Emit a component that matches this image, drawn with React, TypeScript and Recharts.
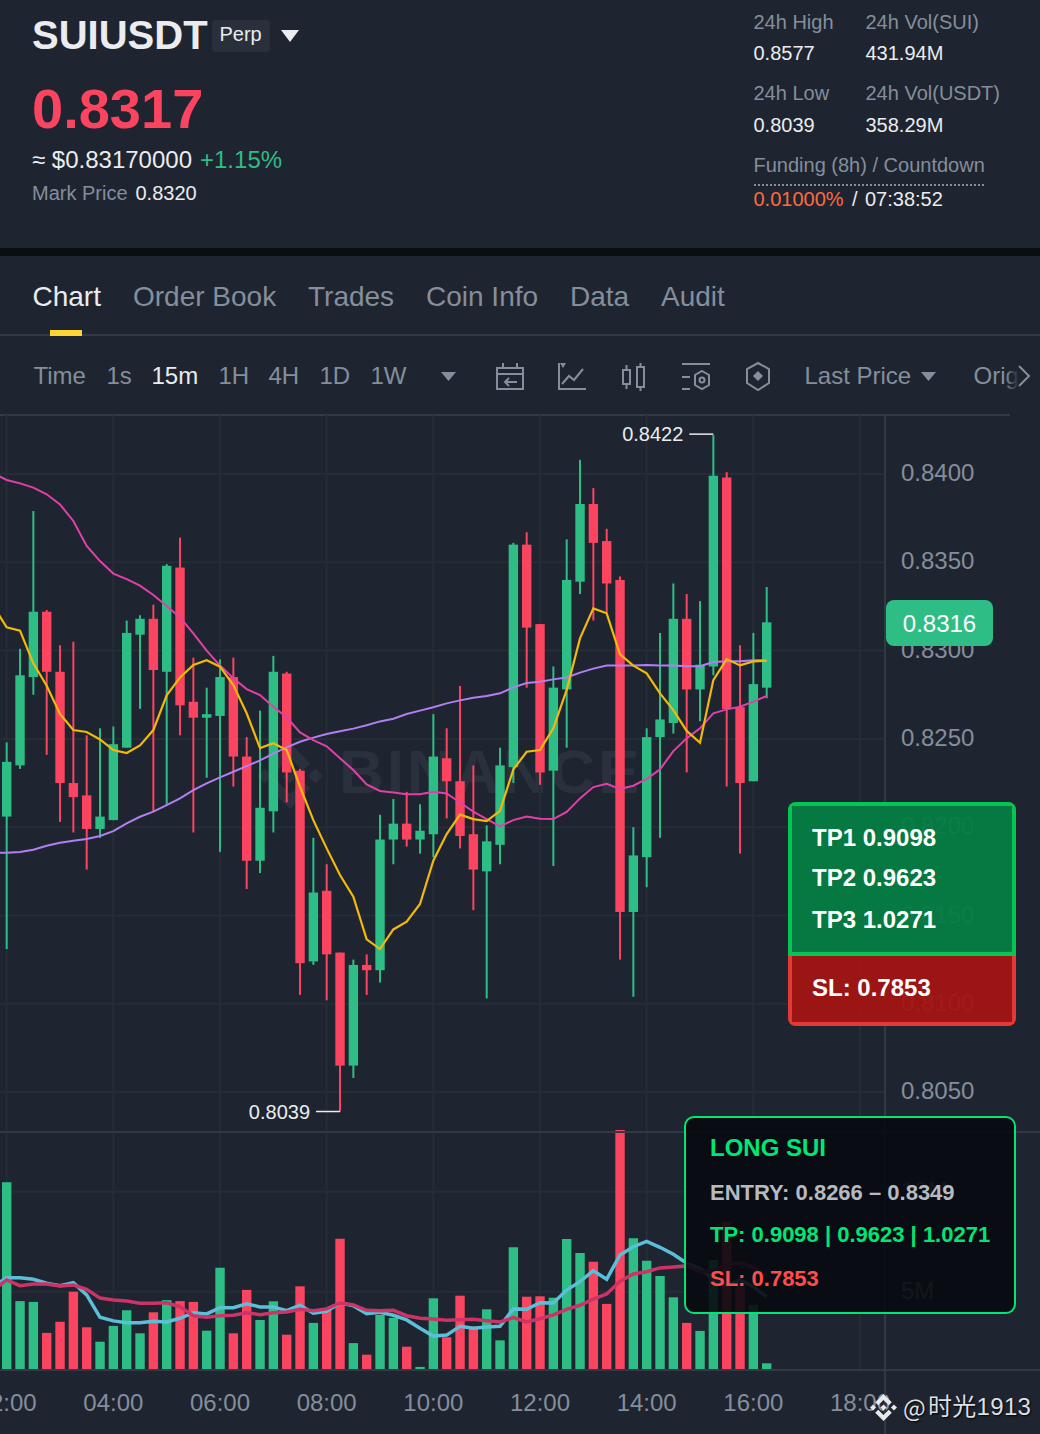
import React from "react"
import { Bar, Cell, CartesianGrid, ComposedChart, Line, ReferenceDot, XAxis, YAxis } from "recharts"

const opens = [0.8206, 0.8235, 0.8285, 0.8322, 0.8288, 0.8225, 0.8218, 0.8199, 0.8204, 0.8245, 0.8309, 0.8318, 0.8288, 0.8347, 0.8271, 0.8262, 0.8263, 0.8285, 0.824, 0.8181, 0.8209, 0.8287, 0.8232, 0.8124, 0.8164, 0.8129, 0.8065, 0.8122, 0.8119, 0.8193, 0.8202, 0.8193, 0.8196, 0.8239, 0.8226, 0.8196, 0.8175, 0.819, 0.8234, 0.836, 0.8315, 0.8232, 0.8278, 0.8339, 0.8383, 0.8362, 0.834, 0.8152, 0.8183, 0.8251, 0.8259, 0.8318, 0.8278, 0.8291, 0.8398, 0.8268, 0.8226, 0.8279]
const closes = [0.8237, 0.8286, 0.8322, 0.8288, 0.8225, 0.8217, 0.8199, 0.8206, 0.8247, 0.831, 0.8318, 0.8289, 0.8348, 0.8269, 0.8262, 0.8264, 0.8285, 0.824, 0.8181, 0.8211, 0.8288, 0.8231, 0.8123, 0.8163, 0.8128, 0.8065, 0.8122, 0.8119, 0.8193, 0.8202, 0.8193, 0.8198, 0.824, 0.8226, 0.8195, 0.8176, 0.8192, 0.8235, 0.836, 0.8313, 0.8231, 0.8279, 0.834, 0.8383, 0.8361, 0.8338, 0.8152, 0.8184, 0.8251, 0.8261, 0.8318, 0.8278, 0.8292, 0.8399, 0.8267, 0.8225, 0.8281, 0.8316]
const highs = [0.8248, 0.8301, 0.8379, 0.8323, 0.8303, 0.8305, 0.8252, 0.8256, 0.8257, 0.8317, 0.832, 0.8326, 0.8349, 0.8364, 0.8296, 0.8279, 0.8295, 0.8296, 0.8251, 0.8266, 0.8297, 0.8288, 0.8233, 0.8194, 0.8179, 0.8129, 0.8125, 0.8128, 0.8207, 0.8216, 0.822, 0.8213, 0.8264, 0.8256, 0.828, 0.8235, 0.8201, 0.8245, 0.8361, 0.8367, 0.8315, 0.8291, 0.8363, 0.8408, 0.8392, 0.8369, 0.8342, 0.82, 0.8256, 0.831, 0.8338, 0.8332, 0.8328, 0.8422, 0.8401, 0.8303, 0.831, 0.8336]
const lows = [0.8131, 0.8233, 0.8275, 0.8241, 0.8203, 0.8197, 0.8176, 0.8194, 0.8204, 0.8245, 0.8267, 0.8209, 0.8213, 0.8252, 0.8197, 0.8228, 0.8186, 0.8223, 0.8165, 0.8174, 0.8197, 0.8214, 0.8105, 0.8122, 0.8102, 0.8039, 0.8058, 0.8105, 0.8112, 0.8179, 0.8189, 0.8185, 0.8183, 0.8205, 0.8188, 0.8153, 0.8103, 0.8179, 0.8225, 0.8279, 0.8224, 0.8178, 0.8245, 0.8332, 0.8317, 0.8321, 0.8125, 0.8104, 0.8166, 0.8194, 0.8253, 0.8231, 0.826, 0.8286, 0.8223, 0.8185, 0.8226, 0.8273]
const volumes = [10.47, 4.53, 4.49, 2.94, 3.5, 5.0, 3.22, 2.5, 3.29, 4.07, 2.92, 3.97, 4.58, 4.53, 4.49, 3.05, 6.2, 2.92, 5.09, 3.59, 4.52, 2.85, 5.27, 3.44, 4.17, 7.65, 2.43, 1.85, 3.84, 3.69, 2.25, 1.24, 4.67, 2.72, 4.8, 3.25, 4.12, 2.57, 7.22, 4.75, 4.77, 4.7, 7.63, 6.94, 6.5, 4.39, 13.08, 7.67, 6.55, 5.78, 4.72, 3.44, 3.04, 6.58, 8.5, 5.58, 4.34, 1.42]

// moving averages start one candle earlier, off the left edge
const ma7 = [0.83252, 0.83132, 0.83113, 0.82928, 0.82801, 0.82641, 0.8255, 0.82539, 0.82497, 0.82437, 0.8242, 0.82463, 0.8255, 0.82747, 0.82848, 0.82918, 0.82945, 0.82909, 0.82805, 0.82645, 0.82448, 0.82475, 0.82437, 0.82229, 0.8204, 0.8188, 0.81729, 0.81607, 0.81365, 0.8131, 0.81421, 0.81465, 0.81565, 0.8181, 0.81961, 0.82071, 0.82046, 0.82035, 0.82093, 0.82327, 0.82427, 0.82437, 0.8256, 0.82777, 0.83069, 0.83239, 0.83211, 0.82979, 0.82915, 0.82871, 0.82758, 0.82663, 0.82545, 0.82478, 0.82833, 0.82952, 0.82916, 0.82939, 0.82943]
const ma25 = [0.84004, 0.83966, 0.83947, 0.83923, 0.83885, 0.83828, 0.83734, 0.83592, 0.83507, 0.83436, 0.83405, 0.83368, 0.83315, 0.83252, 0.83188, 0.83098, 0.83, 0.82915, 0.82843, 0.82782, 0.82748, 0.82682, 0.82622, 0.82537, 0.82493, 0.82458, 0.8239, 0.82324, 0.82242, 0.82205, 0.82197, 0.82186, 0.82186, 0.82201, 0.82191, 0.8214, 0.82088, 0.82046, 0.82005, 0.8204, 0.82061, 0.82048, 0.82046, 0.82086, 0.82163, 0.82227, 0.82246, 0.82216, 0.82235, 0.82273, 0.82327, 0.82431, 0.82503, 0.8256, 0.82645, 0.82667, 0.82682, 0.82711, 0.82743]
const ma99 = [0.81855, 0.81855, 0.81859, 0.81872, 0.81895, 0.81912, 0.81923, 0.81933, 0.8195, 0.81978, 0.82022, 0.82059, 0.82088, 0.82125, 0.82163, 0.8221, 0.82248, 0.82282, 0.82314, 0.82346, 0.82378, 0.82416, 0.82452, 0.82484, 0.82507, 0.82528, 0.82543, 0.82558, 0.82577, 0.82599, 0.82614, 0.82641, 0.8266, 0.82679, 0.82701, 0.82718, 0.82733, 0.82743, 0.82758, 0.82792, 0.82816, 0.82824, 0.82837, 0.82848, 0.82875, 0.82898, 0.82915, 0.82915, 0.82916, 0.82918, 0.82916, 0.82915, 0.82911, 0.82911, 0.82935, 0.82939, 0.82939, 0.82945, 0.82945]
const volMa5 = [5.25, 5.7, 5.7, 5.62, 5.42, 5.3, 5.45, 4.84, 3.72, 3.54, 3.45, 3.45, 3.52, 3.49, 3.67, 3.95, 3.89, 4.2, 4.2, 4.39, 4.24, 4.24, 4.05, 4.32, 3.92, 4.02, 4.45, 4.3, 3.9, 3.97, 3.82, 3.59, 3.17, 2.78, 2.83, 3.27, 3.17, 3.24, 3.27, 4.14, 4.12, 4.45, 4.44, 5.08, 5.5, 6.05, 5.62, 6.84, 7.25, 7.52, 7.22, 6.87, 6.42, 6.17, 5.59, 5.34, 5.59, 5.25, 4.75]
const volMa10 = [5.08, 5.59, 5.3, 5.39, 5.39, 5.29, 5.34, 5.12, 4.68, 4.58, 4.53, 4.42, 4.42, 4.45, 4.25, 3.8, 3.72, 3.8, 3.82, 3.95, 3.85, 3.95, 3.99, 4.12, 4.05, 4.14, 4.44, 4.34, 4.07, 4.05, 4.07, 3.8, 3.67, 3.63, 3.57, 3.6, 3.62, 3.55, 3.49, 3.7, 3.49, 3.65, 3.84, 4.12, 4.32, 4.63, 4.89, 5.52, 5.89, 6.0, 6.19, 6.24, 6.29, 6.0, 6.05, 6.34, 6.45, 6.2, 5.79]

const timeLabels = ["02:00", "04:00", "06:00", "08:00", "10:00", "12:00", "14:00", "16:00", "18:00"]
const timeTicks = [0, 8, 16, 24, 32, 40, 48, 56, 64]
const priceTicks = [0.84, 0.835, 0.83, 0.825, 0.82, 0.815, 0.81, 0.805]
const volumeTicks = [5, 10]
const intervals = ["Time", "1s", "15m", "1H", "4H", "1D", "1W"]
const intervalLefts = [34, 107, 152, 219, 269, 320, 371]
const tabs = ["Chart", "Order Book", "Trades", "Coin Info", "Data", "Audit"]
const tabLefts = [32.5, 133, 308, 426, 570, 661]

const GREEN = "#2EBD85"
const RED = "#FB4560"
const GREY = "#848E9C"
const WHITE = "#EAECEF"
const GRID = "#272D37"
const LINE = "#333944"
const FONT = "'Liberation Sans', Arial, sans-serif"

const rows = ma7.map((_, k) => {
  const i = k - 1
  if (i < 0) {
    return { idx: i, ma7: ma7[k], ma25: ma25[k], ma99: ma99[k], volMa5: volMa5[k], volMa10: volMa10[k] }
  }
  return {
    idx: i,
    open: opens[i],
    close: closes[i],
    range: [lows[i], highs[i]],
    vol: volumes[i],
    ma7: ma7[k],
    ma25: ma25[k],
    ma99: ma99[k],
    volMa5: volMa5[k],
    volMa10: volMa10[k],
  }
})

function Candle(props: any) {
  const { x, y, width, height, payload } = props
  if (!payload.range) return null
  const [low, high] = payload.range
  const perUnit = Math.abs(height) / (high - low)
  const top = y + (high - Math.max(payload.open, payload.close)) * perUnit
  const bodyH = Math.max(1, Math.abs(payload.open - payload.close) * perUnit)
  const color = payload.close >= payload.open ? GREEN : RED
  return (
    <g>
      <rect x={x + width / 2 - 1} y={y} width={2} height={Math.abs(height)} fill={color} />
      <rect x={x} y={top} width={width} height={bodyH} fill={color} />
    </g>
  )
}

function ExtremeMark(props: any) {
  const { cx, cy, text, shift } = props
  const y = cy + shift
  return (
    <g>
      <line x1={cx - 24} y1={y} x2={cx} y2={y} stroke={WHITE} strokeWidth={1.5} />
      <text x={cx - 30} y={y} dy={7} textAnchor="end" fontSize={20} fill={WHITE}>
        {text}
      </text>
    </g>
  )
}

function T({ x, cy, size, color, bold, children, style }: any) {
  return (
    <div
      style={{
        position: "absolute",
        left: x,
        top: cy - size,
        height: size * 2,
        lineHeight: `${size * 2}px`,
        fontSize: size,
        color,
        fontWeight: bold ? 700 : 400,
        whiteSpace: "nowrap",
        ...style,
      }}
    >
      {children}
    </div>
  )
}

function Rule({ x, y, w, h, color }: any) {
  return <div style={{ position: "absolute", left: x, top: y, width: w, height: h, background: color }} />
}

function Caret({ x, y, w, h, color }: any) {
  return (
    <svg style={{ position: "absolute", left: x, top: y }} width={w} height={h}>
      <polygon points={`0,0 ${w},0 ${w / 2},${h}`} fill={color} />
    </svg>
  )
}

function Logo({ x, y, size, color }: any) {
  return (
    <svg style={{ position: "absolute", left: x, top: y }} width={size} height={size} viewBox="0 0 126.61 126.61">
      <g fill={color}>
        <path d="M38.73 53.2l24.59-24.58 24.6 24.6 14.3-14.31L63.32 0 24.43 38.89z" />
        <path d="M0 63.31l14.3-14.31 14.31 14.31-14.31 14.3z" />
        <path d="M38.73 73.41l24.59 24.59 24.6-24.6 14.31 14.29-38.9 38.91-38.91-38.88v-.03z" />
        <path d="M98 63.31l14.3-14.31 14.31 14.3-14.31 14.32z" />
        <path d="M77.83 63.3L63.32 48.78 52.59 59.51l-1.24 1.23-2.54 2.54 14.51 14.5 14.51-14.47z" />
      </g>
    </svg>
  )
}

function ToolIcons() {
  const s = { fill: "none", stroke: GREY, strokeWidth: 2 }
  return (
    <svg style={{ position: "absolute", left: 490, top: 358 }} width={290} height={36}>
      {/* calendar */}
      <g {...s}>
        <rect x={7} y={10} width={26} height={21} />
        <path d="M7 16h26M13 5v5M27 5v5M27 24h-12M19 20l-4 4 4 4" />
      </g>
      {/* line chart */}
      <g {...s}>
        <path d="M69 5v26h27M72 26l7-8 5 4 9-11" />
      </g>
      <polygon points="70,5 76,5 73,10" fill={GREY} />
      {/* candles */}
      <g {...s}>
        <rect x={133} y={12} width={7} height={14} />
        <rect x={147} y={9} width={7} height={20} />
        <path d="M136.5 7v5M136.5 26v5M150.5 5v4M150.5 29v4" />
      </g>
      {/* settings */}
      <g {...s}>
        <path d="M192 6h28M192 19h8M192 31h8" />
        <polygon points="212,13 219,17 219,27 212,31 205,27 205,17" />
        <circle cx={212} cy={22} r={2.5} />
      </g>
      {/* hexagon */}
      <g {...s}>
        <polygon points="268,5 279,11 279,25 268,32 257,25 257,11" />
      </g>
      <polygon points="268,13 273,18 268,23 263,18" fill={GREY} />
    </svg>
  )
}

export default function App() {
  return (
    <div
      style={{
        position: "absolute",
        left: 0,
        top: 0,
        width: 1040,
        height: 1434,
        overflow: "hidden",
        background: "#1F2530",
        fontFamily: FONT,
      }}
    >
      {/* header */}
      <T x={32} cy={34.5} size={40} color={WHITE} bold>SUIUSDT</T>
      <div style={{ position: "absolute", left: 212, top: 20, width: 58, height: 32, borderRadius: 4, background: "#2A303B" }} />
      <T x={219.5} cy={33.5} size={20} color={WHITE}>Perp</T>
      <Caret x={281} y={30} w={18} h={12} color={WHITE} />
      <T x={32} cy={109} size={56} color={RED} bold>0.8317</T>
      <T x={32} cy={160} size={24} color={WHITE}>≈ $0.83170000</T>
      <T x={200} cy={160} size={24} color={GREEN}>+1.15%</T>
      <T x={32} cy={193} size={20} color={GREY}>Mark Price</T>
      <T x={135.5} cy={193} size={20} color={WHITE}>0.8320</T>

      <T x={753.5} cy={22} size={20} color={GREY}>24h High</T>
      <T x={865.5} cy={22} size={20} color={GREY}>24h Vol(SUI)</T>
      <T x={753.5} cy={53} size={20} color={WHITE}>0.8577</T>
      <T x={865.5} cy={53} size={20} color={WHITE}>431.94M</T>
      <T x={753.5} cy={93} size={20} color={GREY}>24h Low</T>
      <T x={865.5} cy={93} size={20} color={GREY}>24h Vol(USDT)</T>
      <T x={753.5} cy={125} size={20} color={WHITE}>0.8039</T>
      <T x={865.5} cy={125} size={20} color={WHITE}>358.29M</T>
      <T x={753.5} cy={165} size={20} color={GREY}>Funding (8h) / Countdown</T>
      <div style={{ position: "absolute", left: 754, top: 184, width: 230, borderTop: `2px dotted ${GREY}` }} />
      <T x={753.5} cy={199} size={20} color="#FF6A3D">0.01000%</T>
      <T x={852} cy={199} size={20} color={WHITE}>/</T>
      <T x={865} cy={199} size={20} color={WHITE}>07:38:52</T>

      <Rule x={0} y={248} w={1040} h={8} color="#0B0E11" />

      {/* tabs */}
      {tabs.map((t, i) => (
        <T key={t} x={tabLefts[i]} cy={297} size={28} color={i === 0 ? WHITE : GREY}>{t}</T>
      ))}
      <Rule x={0} y={334} w={1040} h={2} color={LINE} />
      <Rule x={50} y={330} w={32} h={6} color="#FCD535" />

      {/* toolbar */}
      {intervals.map((t, i) => (
        <T key={t} x={intervalLefts[i] - 0.5} cy={376} size={24} color={t === "15m" ? WHITE : GREY}>{t}</T>
      ))}
      <Caret x={441} y={372} w={15} h={9} color={GREY} />
      <ToolIcons />
      <T x={804.5} cy={376} size={24} color={GREY}>Last Price</T>
      <Caret x={921} y={372} w={15} h={9} color={GREY} />
      <T x={973.5} cy={376} size={24} color={GREY}>Orig</T>
      <div style={{ position: "absolute", left: 1005, top: 360, width: 14, height: 32, background: "linear-gradient(to right, rgba(31,37,48,0), #1F2530)" }} />
      <svg style={{ position: "absolute", left: 1016, top: 364 }} width={16} height={24}>
        <path d="M3 2l10 10-10 10" fill="none" stroke={GREY} strokeWidth={2} />
      </svg>
      <Rule x={0} y={414} w={1010} h={2} color={LINE} />

      {/* watermark sits under the candles */}
      <Logo x={257} y={743} size={66} color="#2B313C" />
      <T x={339} cy={772} size={62} color="#2B313C" bold style={{ letterSpacing: 3 }}>BINANCE</T>

      <div style={{ position: "absolute", left: 0, top: 415 }}>
        <ComposedChart width={1040} height={717} data={rows} margin={{ top: 0, right: 0, bottom: 0, left: 0 }}>
          <CartesianGrid stroke={GRID} strokeWidth={2} verticalValues={timeTicks} horizontalValues={priceTicks} />
          <XAxis dataKey="idx" type="number" domain={[-0.5, 65.875]} ticks={timeTicks} allowDataOverflow hide />
          <YAxis
            orientation="right"
            width={155}
            domain={[0.80274, 0.84334]}
            allowDataOverflow
            ticks={priceTicks}
            interval={0}
            axisLine={false}
            tickLine={false}
            tickSize={0}
            tickMargin={16}
            tick={{ fill: GREY, fontSize: 24, dy: -1.5 }}
            tickFormatter={(v) => v.toFixed(4)}
          />
          <Bar dataKey="range" barSize={9.4} shape={Candle} isAnimationActive={false} />
          <Line dataKey="ma99" type="linear" stroke="#B07FF0" strokeWidth={2} dot={false} isAnimationActive={false} />
          <Line dataKey="ma25" type="linear" stroke="#E040A8" strokeWidth={2} dot={false} isAnimationActive={false} />
          <Line dataKey="ma7" type="linear" stroke="#F0B90B" strokeWidth={2.2} dot={false} isAnimationActive={false} />
          <ReferenceDot x={53} y={0.8422} r={0} shape={(p: any) => <ExtremeMark {...p} text="0.8422" shift={-1} />} />
          <ReferenceDot x={25} y={0.8039} r={0} shape={(p: any) => <ExtremeMark {...p} text="0.8039" shift={0} />} />
        </ComposedChart>
      </div>

      <div style={{ position: "absolute", left: 0, top: 1128 }}>
        <ComposedChart width={1040} height={306} data={rows} margin={{ top: 0, right: 0, bottom: 0, left: 0 }}>
          <CartesianGrid stroke={GRID} strokeWidth={2} verticalValues={timeTicks} horizontalValues={volumeTicks} />
          <XAxis
            dataKey="idx"
            type="number"
            domain={[-0.5, 65.875]}
            ticks={timeTicks}
            interval={0}
            allowDataOverflow
            height={64}
            axisLine={false}
            tickLine={false}
            tickSize={0}
            tickMargin={24}
            tick={{ fill: GREY, fontSize: 24 }}
            tickFormatter={(v) => timeLabels[timeTicks.indexOf(v)]}
          />
          <YAxis
            orientation="right"
            width={155}
            domain={[1.085, 13.185]}
            allowDataOverflow
            ticks={volumeTicks}
            interval={0}
            axisLine={false}
            tickLine={false}
            tickSize={0}
            tickMargin={16}
            tick={{ fill: GREY, fontSize: 24, dy: -1.5 }}
            tickFormatter={(v) => `${v}M`}
          />
          <Bar dataKey="vol" barSize={9.4} isAnimationActive={false}>
            {rows.map((r: any) => (
              <Cell key={r.idx} fill={r.close >= r.open ? GREEN : RED} />
            ))}
          </Bar>
          <Line dataKey="volMa5" type="linear" stroke="#5BBFD8" strokeWidth={3.5} dot={false} isAnimationActive={false} />
          <Line dataKey="volMa10" type="linear" stroke="#CC3366" strokeWidth={3.5} dot={false} isAnimationActive={false} />
        </ComposedChart>
      </div>

      {/* pane borders and axis divider */}
      <Rule x={0} y={1131} w={1040} h={2} color={LINE} />
      <Rule x={0} y={1369} w={1040} h={2} color={LINE} />
      <Rule x={884} y={415} w={2} h={1019} color={LINE} />

      {/* last price tag */}
      <div
        style={{
          position: "absolute",
          left: 886,
          top: 600,
          width: 107,
          height: 46,
          borderRadius: 8,
          background: GREEN,
          color: "#FFFFFF",
          fontSize: 24,
          lineHeight: "48px",
          textAlign: "center",
        }}
      >
        0.8316
      </div>

      {/* target box */}
      <div
        style={{
          position: "absolute",
          left: 788,
          top: 802,
          width: 228,
          height: 224,
          boxSizing: "border-box",
          borderRadius: 8,
          overflow: "hidden",
        }}
      >
        <div
          style={{
            position: "absolute",
            left: 0,
            top: 0,
            width: 228,
            height: 154,
            boxSizing: "border-box",
            border: "4px solid #07C552",
            background: "rgba(5,124,67,0.95)",
          }}
        />
        <div
          style={{
            position: "absolute",
            left: 0,
            top: 154,
            width: 228,
            height: 70,
            boxSizing: "border-box",
            border: "4px solid #E53935",
            borderTop: "none",
            background: "rgba(163,20,20,0.95)",
          }}
        />
      </div>
      <T x={812} cy={838} size={24} color="#FFFFFF" bold>TP1 0.9098</T>
      <T x={812} cy={878} size={24} color="#FFFFFF" bold>TP2 0.9623</T>
      <T x={812} cy={920} size={24} color="#FFFFFF" bold>TP3 1.0271</T>
      <T x={812} cy={988} size={24} color="#FFFFFF" bold>SL: 0.7853</T>

      {/* signal box */}
      <div
        style={{
          position: "absolute",
          left: 684,
          top: 1116,
          width: 332,
          height: 198,
          boxSizing: "border-box",
          border: "2px solid #00E676",
          borderRadius: 10,
          background: "rgba(7,10,16,0.9)",
        }}
      />
      <T x={710} cy={1148} size={24} color="#00E676" bold>LONG SUI</T>
      <T x={710} cy={1193} size={22} color="#B7BAC1" bold>ENTRY: 0.8266 – 0.8349</T>
      <T x={710} cy={1235} size={22} color="#00E676" bold>TP: 0.9098 | 0.9623 | 1.0271</T>
      <T x={710} cy={1279} size={22} color="#FF4D4D" bold>SL: 0.7853</T>

      {/* footer stamp */}
      <Logo x={870} y={1394} size={27} color="#E6E8EA" />
      <T x={903} cy={1407} size={24} color="#DDDFE2" style={{ fontFamily: "'Noto Sans CJK SC', sans-serif", textShadow: "1px 1px 2px #000" }}>@</T>
      <T x={928} cy={1407} size={24} color="#DDDFE2" style={{ fontFamily: `${FONT.split(",")[0]}, 'Noto Sans CJK SC', sans-serif`, letterSpacing: 0.3, textShadow: "1px 1px 2px #000" }}>时光1913</T>
    </div>
  )
}
